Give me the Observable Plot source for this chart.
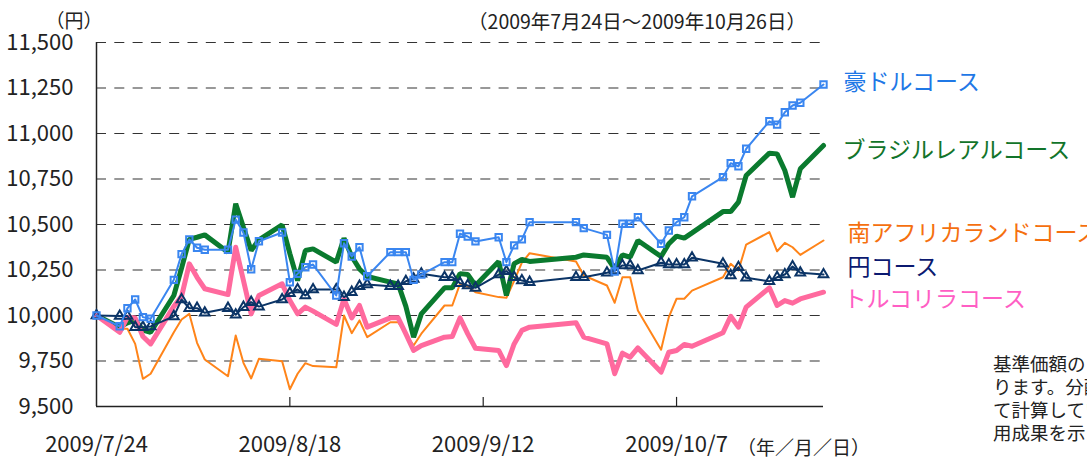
<!DOCTYPE html>
<html><head><meta charset="utf-8">
<script src="https://cdn.jsdelivr.net/npm/d3@7"></script>
<script src="https://cdn.jsdelivr.net/npm/@observablehq/plot@0.6"></script>
<style>
body{margin:0;background:#fff;font-family:"Noto Sans CJK JP","Noto Sans",sans-serif;overflow:hidden}
#wrap{position:relative;width:1087px;height:459px;overflow:hidden;background:#fff}
#wrap svg{position:absolute;left:0;top:0}
.t{position:absolute;white-space:nowrap;color:#222;line-height:1}
.c{transform:translate(-50%,-50%)}
</style></head><body><div id="wrap"></div>
<script>
// ---- data ----
const dates = ["2009-07-24","2009-07-27","2009-07-28","2009-07-29","2009-07-30","2009-07-31",
"2009-08-03","2009-08-04","2009-08-05","2009-08-06","2009-08-07",
"2009-08-10","2009-08-11","2009-08-12","2009-08-13","2009-08-14",
"2009-08-17","2009-08-18","2009-08-19","2009-08-20","2009-08-21",
"2009-08-24","2009-08-25","2009-08-26","2009-08-27","2009-08-28",
"2009-08-31","2009-09-01","2009-09-02","2009-09-03","2009-09-04",
"2009-09-07","2009-09-08","2009-09-09","2009-09-10","2009-09-11",
"2009-09-14","2009-09-15","2009-09-16","2009-09-17","2009-09-18",
"2009-09-24","2009-09-25",
"2009-09-28","2009-09-29","2009-09-30","2009-10-01","2009-10-02",
"2009-10-05","2009-10-06","2009-10-07","2009-10-08","2009-10-09",
"2009-10-13","2009-10-14","2009-10-15","2009-10-16",
"2009-10-19","2009-10-20","2009-10-21","2009-10-22","2009-10-23",
"2009-10-26"];

const audValues = [10000,9941,10040,10088,9991,9982,
10196,10337,10418,10372,10361,
10361,10527,10456,10254,10408,
10456,10183,10229,10265,10280,
10110,10397,10324,10375,10216,
10348,10348,10348,10196,10225,
10293,10293,10449,10434,10407,
10430,10293,10385,10418,10513,
10513,10480,
10443,10242,10504,10504,10540,
10394,10467,10513,10540,10655,
10760,10837,10820,10916,
11067,11049,11117,11154,11169,
11269];

const brlValues = [10000,9936,9960,9975,9920,9908,
10110,10260,10418,10430,10443,
10348,10614,10485,10357,10416,
10498,10340,10192,10357,10366,
10293,10425,10324,10256,10214,
10183,10174,10050,9881,10009,
10152,10152,10230,10225,10165,
10297,10110,10285,10308,10297,
10320,10333,
10320,10256,10333,10320,10412,
10324,10394,10436,10425,10454,
10571,10571,10623,10769,
10892,10888,10797,10650,10806,
10934];

const zarValues = [10000,9927,9927,9844,9652,9680,
9908,9978,10009,9850,9758,
9666,9890,9740,9654,9762,
9749,9595,9680,9738,9722,
9715,10000,9903,9973,9881,
9963,9963,9899,9835,9900,
10055,10055,10174,10159,10128,
10101,10097,10190,10290,10342,
10297,10220,
10165,10070,10210,10210,10027,
9812,9991,10092,10092,10137,
10210,10284,10247,10390,
10458,10353,10399,10375,10333,
10412];

const jpyValues = [10000,9997,9997,9936,9936,9940,
9995,10088,10040,10040,10015,
10040,10004,10046,10073,10049,
10088,10123,10143,10110,10143,
10143,10101,10128,10161,10170,
10161,10161,10188,10201,10229,
10210,10210,10178,10165,10152,
10225,10243,10210,10192,10183,
10210,10210,
10235,10247,10275,10275,10247,
10290,10280,10280,10280,10317,
10284,10220,10265,10207,
10188,10210,10225,10269,10235,
10225];

const tryValues = [10000,9908,9991,9987,9885,9844,
10050,10105,10284,10210,10147,
10115,10375,10192,10009,10110,
10174,10082,10009,10046,10024,
9951,10091,9987,10055,9936,
9987,9987,9899,9808,9835,
9881,9885,9987,9899,9820,
9808,9725,9844,9918,9936,
9960,9881,
9844,9680,9793,9771,9822,
9689,9798,9808,9841,9831,
9905,9996,9936,10046,
10152,10055,10082,10068,10091,
10128];

const seriesNames = ["豪ドルコース","ブラジルレアルコース","南アフリカランドコース","円コース","トルコリラコース"];
const yTicks = [9500,9750,10000,10250,10500,10750,11000,11250,11500];
const xTickDates = ["2009-07-24","2009-08-18","2009-09-12","2009-10-07"];
const xTickLabels = ["2009/7/24","2009/8/18","2009/9/12","2009/10/7"];
const periodText = "（2009年7月24日～2009年10月26日）";
const unitY = "（円）";
const unitX = "（年／月／日）";
const noteLines = ["基準価額の","ります。分配","て計算してい","用成果を示"];

// ---- layout / style (not data) ----
const labelY = [11277, 10907, 10451, 10264, 10088];
const labelDx = [20, 19, 24, 24, 20];
const labelColors = ["#1f78e6","#12742a","#f5700f","#0b1970","#ff5ec4"];

const parse = s => new Date(s + "T00:00:00Z");
const rows = vals => dates.map((d, i) => ({date: parse(d), value: vals[i]}));
const aud = rows(audValues), brl = rows(brlValues), zar = rows(zarValues), jpy = rows(jpyValues), tryr = rows(tryValues);
const xStart = parse(dates[0]), xEnd = parse(dates[dates.length - 1]);
const tickD = xTickDates.map(parse);
const labels = seriesNames.map((n, i) => ({name: n, y: labelY[i], dx: labelDx[i], color: labelColors[i]}));

const font = '"Noto Sans CJK JP","Noto Sans",sans-serif';
const chart = Plot.plot({
  width: 1087, height: 459,
  marginLeft: 96, marginRight: 264, marginTop: 42, marginBottom: 53,
  style: {fontFamily: font, background: "transparent", overflow: "visible", color: "#222"},
  x: {type: "utc", domain: [xStart, xEnd]},
  y: {domain: [9500, 11500]},
  marks: [
    Plot.ruleY(yTicks.filter(v => v > 9500), {stroke: "#333", strokeWidth: 1.2, strokeDasharray: "10,8.3"}),
    Plot.axisY({ticks: yTicks, tickFormat: d3.format(","), tickSize: 0, tickPadding: 23, fontSize: 22, fill: "#222"}),
    Plot.axisX({ticks: tickD, tickFormat: (d, i) => xTickLabels[i], tickSize: 0, tickPadding: 30, fontSize: 22, fill: "#222"}),
    Plot.ruleX(tickD.slice(1), {y1: 9500, y2: 9550, stroke: "#222", strokeWidth: 1.2}),
    Plot.ruleY([9500], {stroke: "#222", strokeWidth: 1.5}),
    Plot.ruleX([xStart], {stroke: "#222", strokeWidth: 1.5}),
    Plot.line(zar, {x: "date", y: "value", stroke: "#ff8419", strokeWidth: 2}),
    Plot.line(brl, {x: "date", y: "value", stroke: "#0a7a2e", strokeWidth: 5, strokeLinejoin: "miter"}),
    Plot.line(tryr, {x: "date", y: "value", stroke: "#ff6a9e", strokeWidth: 5}),
    Plot.line(jpy, {x: "date", y: "value", stroke: "#0b3466", strokeWidth: 2}),
    Plot.dot(jpy, {x: "date", y: "value", symbol: "triangle", r: 3.6, stroke: "#0b3466", strokeWidth: 2, fill: "none"}),
    Plot.line(aud, {x: "date", y: "value", stroke: "#3a86f0", strokeWidth: 2}),
    Plot.dot(aud, {x: "date", y: "value", symbol: "square", r: 3.6, stroke: "#3a86f0", strokeWidth: 2, fill: "none"}),
    Plot.text(labels, {x: () => xEnd, y: "y", text: "name", fill: "color", fontSize: 23, textAnchor: "start", fontFamily: font})
  ]
});
const wrap = document.getElementById("wrap");
wrap.appendChild(chart);
// per-label horizontal offsets
chart.querySelectorAll("g[aria-label='text'] text").forEach((t, i) => {
  const cur = parseFloat(t.getAttribute("x") || 0);
  t.setAttribute("x", cur + labels[i].dx);
});

function addText(txt, cls, css) {
  const d = document.createElement("div");
  d.className = "t " + cls;
  d.textContent = txt;
  Object.assign(d.style, css);
  wrap.appendChild(d);
  return d;
}
addText(unitY, "c", {left: "74px", top: "19px", fontSize: "19px"});
addText(periodText, "c", {left: "637px", top: "21px", fontSize: "19.5px"});
addText(unitX, "", {left: "737px", top: "437px", fontSize: "19px"});
noteLines.forEach((line, i) => {
  addText(line, "", {left: "993px", top: (354 + i * 23) + "px", fontSize: "18.5px", lineHeight: "19px"});
});
</script></body></html>
